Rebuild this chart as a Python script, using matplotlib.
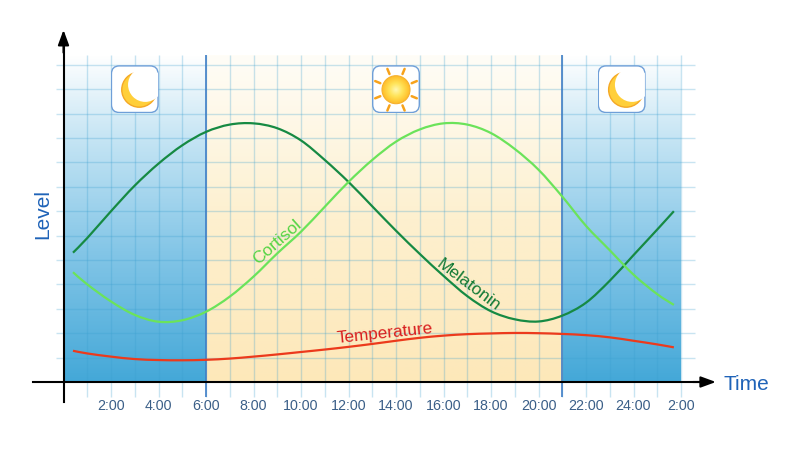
import numpy as np
import matplotlib.pyplot as plt
from matplotlib.colors import LinearSegmentedColormap
from matplotlib.patches import FancyBboxPatch, Circle, PathPatch
from matplotlib.path import Path

plt.rcParams['font.family'] = ['Liberation Sans', 'DejaVu Sans']

# hourly readings (hours after midnight, level in grid units)
hours = [0.4, 1, 2, 3, 4, 5, 6, 7, 8, 9, 10, 11, 12, 13, 14, 15, 16, 17, 18, 19,
         20, 21, 22, 23, 24, 25, 25.7]
melatonin = [5.3, 5.9, 7.0, 8.05, 8.95, 9.7, 10.25, 10.55, 10.6, 10.4, 9.9, 9.1, 8.2,
             7.2, 6.2, 5.25, 4.35, 3.52, 2.9, 2.57, 2.48, 2.72, 3.25, 4.15, 5.2, 6.25, 7.0]
cortisol = [4.5, 4.0, 3.3, 2.75, 2.47, 2.53, 2.88, 3.5, 4.32, 5.27, 6.16, 7.18, 8.2,
            9.1, 9.85, 10.35, 10.6, 10.55, 10.2, 9.55, 8.7, 7.6, 6.4, 5.4, 4.4, 3.6, 3.16]
temperature = [1.28, 1.17, 1.04, 0.94, 0.9, 0.89, 0.91, 0.96, 1.04, 1.13, 1.23, 1.33,
               1.44, 1.56, 1.69, 1.81, 1.9, 1.96, 1.99, 2.01, 2.0, 1.97, 1.92, 1.83,
               1.69, 1.54, 1.42]

tick_hours = [2, 4, 6, 8, 10, 12, 14, 16, 18, 20, 22, 24, 26]
tick_labels = ['2:00', '4:00', '6:00', '8:00', '10:00', '12:00', '14:00', '16:00',
               '18:00', '20:00', '22:00', '24:00', '2:00']

nights = [(0, 6), (21, 26)]
day = (6, 21)
grid_hours = list(range(1, 27))
grid_levels = list(range(1, 14))
top = 13.4

icon_hours = [3, 14, 23.5]
icon_kinds = ['moon', 'sun', 'moon']
icon_level = 12


def smooth_line(ax, xs, ys, **kw):
    # bezier path through the points (catmull-rom tangents)
    p = np.column_stack([xs, ys])
    n = len(p)
    verts = [p[0]]
    codes = [Path.MOVETO]
    for i in range(n - 1):
        a = p[max(i - 1, 0)]
        d = p[min(i + 2, n - 1)]
        verts += [p[i] + (p[i + 1] - a) / 6, p[i + 1] - (d - p[i]) / 6, p[i + 1]]
        codes += [Path.CURVE4] * 3
    ax.add_patch(PathPatch(Path(verts, codes), fill=False, **kw))


fig = plt.figure(figsize=(8, 4.5), dpi=100)
ax = fig.add_axes([0, 0, 1, 1])

# backgrounds
grad = np.linspace(0, 1, 256).reshape(-1, 1)
blue = LinearSegmentedColormap.from_list(
    'blue', [(0, '#ffffff'), (0.25, '#c6e5f4'), (0.6, '#84c6e7'), (1, '#44a8d8')])
yellow = LinearSegmentedColormap.from_list('yellow', ['#fffdf7', '#fdf0cf', '#fde8b9'])
for a, b in nights:
    ax.imshow(grad, extent=[a, b, 0, top], cmap=blue, aspect='auto', zorder=0)
ax.imshow(grad, extent=[day[0], day[1], 0, top], cmap=yellow, aspect='auto', zorder=0)

# grid
ax.vlines(grid_hours, -0.6, top, color='#3a9fd0', alpha=0.28, lw=1, zorder=1)
ax.hlines(grid_levels, -0.3, 26.6, color='#3a9fd0', alpha=0.28, lw=1, zorder=1)
ax.vlines([day[0], day[1]], -0.6, top, color='#3f7ec6', lw=1.2, zorder=2)

# curves
smooth_line(ax, hours, melatonin, color='#168a43', lw=1.6, zorder=4)
smooth_line(ax, hours, cortisol, color='#6be35a', lw=1.6, zorder=4)
smooth_line(ax, hours, temperature, color='#ec3a1c', lw=1.6, zorder=4)

ax.text(8.98, 5.73, 'Cortisol', color='#55d443', fontsize=12.5, rotation=41.5,
        ha='center', va='center', zorder=5)
ax.text(17.07, 3.98, 'Melatonin', color='#137a35', fontsize=12.5, rotation=-37,
        ha='center', va='center', zorder=5)
ax.text(13.54, 2.0, 'Temperature', color='#d81e1e', fontsize=12.3, rotation=6,
        ha='center', va='center', zorder=5)

# axes (1 hour = 23.75 px, 1 level = 24.4 px, origin at 63.5, 382 px)
ax.set_xlim(-63.5 / 23.75, (800 - 63.5) / 23.75)
ax.set_ylim(-68 / 24.4, 382 / 24.4)
for s in ['top', 'right']:
    ax.spines[s].set_visible(False)
ax.spines['left'].set_position(('data', 0))
ax.spines['bottom'].set_position(('data', 0))
ax.spines['left'].set_bounds(-0.82, 14.0)
ax.spines['bottom'].set_bounds(-1.28, 27.0)
for s in ['left', 'bottom']:
    ax.spines[s].set_linewidth(1.5)
    ax.spines[s].set_zorder(5)
ax.set_yticks([])
ax.set_xticks(tick_hours, tick_labels)
ax.tick_params(axis='x', length=0, pad=12.5, labelsize=10.3, labelcolor='#3b5f88')
ax.patch.set_visible(False)

arrow = dict(arrowstyle='-|>,head_length=0.6,head_width=0.22', color='black', lw=1.5,
             shrinkA=0, shrinkB=0, mutation_scale=15)
ax.annotate('', xy=(27.47, 0), xytext=(26.5, 0), arrowprops=arrow, zorder=6)
ax.annotate('', xy=(0, 14.43), xytext=(0, 13.5), arrowprops=arrow, zorder=6)

ax.text(28.77, -0.33, 'Time', color='#1f63b8', fontsize=15, ha='center', va='baseline')
ax.text(-0.86, 6.89, 'Level', color='#1f63b8', fontsize=15, rotation=90,
        ha='center', va='center')

# icons
for h, kind in zip(icon_hours, icon_kinds):
    px, py = ax.transData.transform((h, icon_level))
    ia = fig.add_axes([(px - 24) / 800, (py - 24) / 450, 48 / 800, 48 / 450])
    ia.set_xlim(0, 48)
    ia.set_ylim(0, 48)
    ia.axis('off')
    box = FancyBboxPatch((0.7, 0.7), 46.6, 46.6, boxstyle='round,pad=0,rounding_size=8',
                         fc='white', ec='#6f9fd8', lw=1)
    ia.add_patch(box)
    if kind == 'moon':
        ia.add_patch(Circle((28.5, 23.5), 17.5, fc='#ffcf3a', ec='#f4a825', lw=1))
        cut = Circle((34.5, 28.5), 17.2, fc='white', ec='none')
        ia.add_patch(cut)
        cut.set_clip_path(box)
    else:
        for ang in np.deg2rad(np.arange(22.5, 360, 45)):
            ia.plot([24 + 17 * np.cos(ang), 24 + 22.5 * np.cos(ang)],
                    [23.5 + 17 * np.sin(ang), 23.5 + 22.5 * np.sin(ang)],
                    color='#f7a21b', lw=1.8, solid_capstyle='round')
        sun = LinearSegmentedColormap.from_list('sun', ['#fff9b8', '#ffe45a', '#ffbf2a'])
        for r in np.linspace(14, 1, 14):
            ia.add_patch(Circle((24, 23.5), r, fc=sun(r / 14), ec='none'))
        ia.add_patch(Circle((24, 23.5), 14, fc='none', ec='#f5b030', lw=0.8))

fig.savefig('out.png', dpi=100)
